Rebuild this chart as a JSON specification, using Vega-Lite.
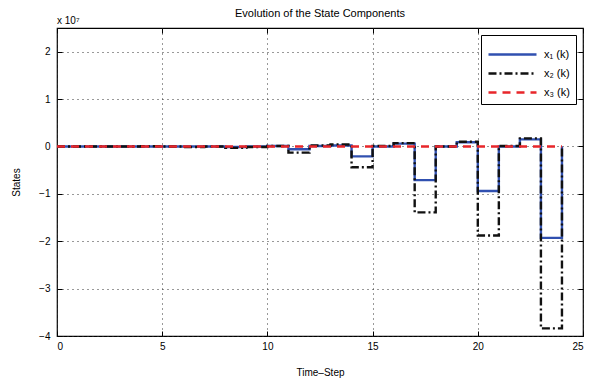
{
  "$schema": "https://vega.github.io/schema/vega-lite/v6.json",
  "width": 526,
  "height": 308,
  "autosize": {"type": "none"},
  "padding": {"left": 57, "top": 28, "right": 11, "bottom": 48},
  "background": "white",
  "title": {"text": "Evolution of the State Components", "fontSize": 11, "fontWeight": "normal", "font": "Liberation Sans", "offset": 9, "dy": 12, "color": "black"},
  "config": {
    "view": {"stroke": "black", "strokeWidth": 1.2},
    "axis": {"labelFont": "Liberation Sans", "titleFont": "Liberation Sans", "labelFontSize": 10, "titleFontSize": 10, "titleFontWeight": "normal", "labelColor": "black", "titleColor": "black", "domainColor": "black", "tickColor": "black"}
  },
  "data": {"values": [
    {"k": 0, "s": "x1", "v": 0}, {"k": 1, "s": "x1", "v": 0}, {"k": 2, "s": "x1", "v": 0}, {"k": 3, "s": "x1", "v": 0}, {"k": 4, "s": "x1", "v": 0},
    {"k": 5, "s": "x1", "v": 0}, {"k": 6, "s": "x1", "v": 0}, {"k": 7, "s": "x1", "v": 0}, {"k": 8, "s": "x1", "v": -0.01}, {"k": 9, "s": "x1", "v": 0},
    {"k": 10, "s": "x1", "v": 0.01}, {"k": 11, "s": "x1", "v": -0.06}, {"k": 12, "s": "x1", "v": 0.01}, {"k": 13, "s": "x1", "v": 0.02}, {"k": 14, "s": "x1", "v": -0.21},
    {"k": 15, "s": "x1", "v": 0}, {"k": 16, "s": "x1", "v": 0.06}, {"k": 17, "s": "x1", "v": -0.71}, {"k": 18, "s": "x1", "v": 0}, {"k": 19, "s": "x1", "v": 0.09},
    {"k": 20, "s": "x1", "v": -0.94}, {"k": 21, "s": "x1", "v": 0}, {"k": 22, "s": "x1", "v": 0.15}, {"k": 23, "s": "x1", "v": -1.93}, {"k": 24, "s": "x1", "v": 0},
    {"k": 0, "s": "x2", "v": 0}, {"k": 1, "s": "x2", "v": 0}, {"k": 2, "s": "x2", "v": 0}, {"k": 3, "s": "x2", "v": 0}, {"k": 4, "s": "x2", "v": 0.005},
    {"k": 5, "s": "x2", "v": 0}, {"k": 6, "s": "x2", "v": -0.01}, {"k": 7, "s": "x2", "v": 0}, {"k": 8, "s": "x2", "v": -0.03}, {"k": 9, "s": "x2", "v": -0.01},
    {"k": 10, "s": "x2", "v": 0.01}, {"k": 11, "s": "x2", "v": -0.13}, {"k": 12, "s": "x2", "v": 0.02}, {"k": 13, "s": "x2", "v": 0.04}, {"k": 14, "s": "x2", "v": -0.44},
    {"k": 15, "s": "x2", "v": 0.01}, {"k": 16, "s": "x2", "v": 0.07}, {"k": 17, "s": "x2", "v": -1.39}, {"k": 18, "s": "x2", "v": 0}, {"k": 19, "s": "x2", "v": 0.1},
    {"k": 20, "s": "x2", "v": -1.88}, {"k": 21, "s": "x2", "v": 0.01}, {"k": 22, "s": "x2", "v": 0.17}, {"k": 23, "s": "x2", "v": -3.84}, {"k": 24, "s": "x2", "v": 0},
    {"k": 0, "s": "x3", "v": 0}, {"k": 1, "s": "x3", "v": 0}, {"k": 2, "s": "x3", "v": 0}, {"k": 3, "s": "x3", "v": 0}, {"k": 4, "s": "x3", "v": 0},
    {"k": 5, "s": "x3", "v": 0}, {"k": 6, "s": "x3", "v": 0}, {"k": 7, "s": "x3", "v": 0}, {"k": 8, "s": "x3", "v": 0}, {"k": 9, "s": "x3", "v": 0},
    {"k": 10, "s": "x3", "v": 0}, {"k": 11, "s": "x3", "v": 0}, {"k": 12, "s": "x3", "v": 0}, {"k": 13, "s": "x3", "v": 0}, {"k": 14, "s": "x3", "v": 0},
    {"k": 15, "s": "x3", "v": 0}, {"k": 16, "s": "x3", "v": 0}, {"k": 17, "s": "x3", "v": 0}, {"k": 18, "s": "x3", "v": 0}, {"k": 19, "s": "x3", "v": 0},
    {"k": 20, "s": "x3", "v": 0}, {"k": 21, "s": "x3", "v": 0}, {"k": 22, "s": "x3", "v": 0}, {"k": 23, "s": "x3", "v": 0}, {"k": 24, "s": "x3", "v": 0}
  ]},
  "resolve": {"axis": {"x": "independent", "y": "independent"}},
  "layer": [
    {
      "mark": {"type": "line", "interpolate": "step-after", "strokeWidth": 2.4},
      "encoding": {
        "x": {"field": "k", "type": "quantitative", "scale": {"domain": [0, 25], "nice": false},
              "axis": {"orient": "bottom", "values": [0, 5, 10, 15, 20, 25], "title": "Time–Step", "tickSize": -5, "labelPadding": 10, "titlePadding": 16, "grid": true, "gridDash": [1, 4], "gridColor": "#333", "gridWidth": 1, "domain": false}},
        "y": {"field": "v", "type": "quantitative", "scale": {"domain": [-4, 2.5], "nice": false},
              "axis": {"orient": "left", "values": [-4, -3, -2, -1, 0, 1, 2], "title": "States", "tickSize": -5, "labelPadding": 12, "titlePadding": 17, "grid": true, "gridDash": [1, 4], "gridColor": "#333", "gridWidth": 1, "domain": false}},
        "color": {"field": "s", "type": "nominal",
                  "scale": {"domain": ["x1", "x2", "x3"], "range": ["#3050b0", "#111111", "#e8262a"]},
                  "legend": {"orient": "top-right", "offset": 7, "title": null, "labelExpr": "datum.value == 'x1' ? 'x₁ (k)' : datum.value == 'x2' ? 'x₂ (k)' : 'x₃ (k)'",
                             "symbolType": "M-1,0H3", "symbolSize": 576, "symbolStrokeWidth": 2.4, "labelFont": "Liberation Sans", "labelFontSize": 11, "labelColor": "black",
                             "fillColor": "white", "strokeColor": "black", "padding": 6, "rowPadding": 0, "labelOffset": 30}},
        "strokeDash": {"field": "s", "type": "nominal", "scale": {"domain": ["x1", "x2", "x3"], "range": [[1, 0], [8, 3, 2, 3], [8, 6]]}, "legend": null},
        "order": {"field": "s"}
      }
    },
    {
      "data": {"values": [{"lab": "x 10⁷", "x": 0, "y": 2.5}]},
      "mark": {"type": "text", "align": "left", "baseline": "bottom", "dy": -2, "fontSize": 10, "font": "Liberation Sans", "color": "black"},
      "encoding": {
        "text": {"field": "lab"},
        "x": {"field": "x", "type": "quantitative", "scale": {"domain": [0, 25], "nice": false},
              "axis": {"orient": "top", "values": [0, 5, 10, 15, 20, 25], "labels": false, "title": null, "tickSize": -5, "grid": false, "domain": false}},
        "y": {"field": "y", "type": "quantitative", "scale": {"domain": [-4, 2.5], "nice": false},
              "axis": {"orient": "right", "values": [-4, -3, -2, -1, 0, 1, 2], "labels": false, "title": null, "tickSize": -5, "grid": false, "domain": false}}
      }
    }
  ]
}
